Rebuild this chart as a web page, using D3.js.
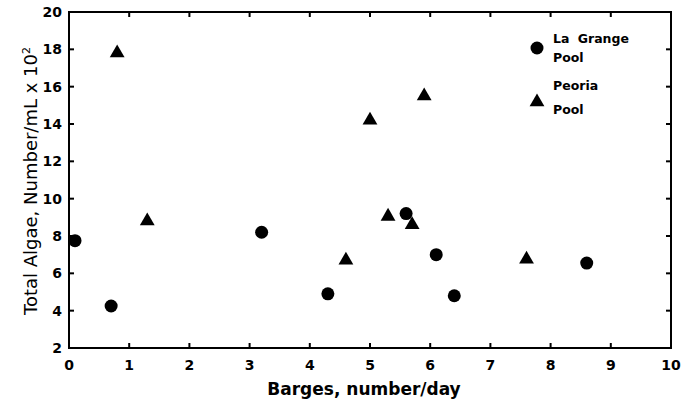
<!DOCTYPE html>
<html>
<head>
<meta charset="utf-8">
<script src="https://cdn.jsdelivr.net/npm/d3@7"></script>
<style>
  body { margin: 0; background: #fff; }
  text { font-family: "DejaVu Sans", sans-serif; fill: #000; }
</style>
</head>
<body>
<script>
// La Grange Pool (circles)
const laGrangeX = [0.1, 0.7, 3.2, 4.3, 5.6, 6.1, 6.4, 8.6];
const laGrangeY = [7.75, 4.25, 8.2, 4.9, 9.2, 7.0, 4.8, 6.55];
// Peoria Pool (triangles)
const peoriaX = [0.8, 1.3, 4.6, 5.0, 5.3, 5.7, 5.9, 7.6];
const peoriaY = [17.8, 8.8, 6.7, 14.2, 9.05, 8.6, 15.5, 6.75];

const xTicks = [0, 1, 2, 3, 4, 5, 6, 7, 8, 9, 10];
const yTicks = [2, 4, 6, 8, 10, 12, 14, 16, 18, 20];

const width = 694, height = 403;
const margin = { left: 69, right: 23, top: 12, bottom: 55 };

const svg = d3.select('body').append('svg')
    .attr('width', width)
    .attr('height', height);

const x = d3.scaleLinear().domain([0, 10]).range([margin.left, width - margin.right]);
const y = d3.scaleLinear().domain([2, 20]).range([height - margin.bottom, margin.top]);

// frame
svg.append('rect')
    .attr('x', x(0)).attr('y', y(20))
    .attr('width', x(10) - x(0)).attr('height', y(2) - y(20))
    .attr('fill', 'none').attr('stroke', '#000').attr('stroke-width', 2);

// inward ticks on all sides
const tickLen = 5;
const g = svg.append('g').attr('stroke', '#000').attr('stroke-width', 2);
g.selectAll('.tb').data(xTicks.slice(1, -1)).join('line')
    .attr('x1', d => x(d)).attr('x2', d => x(d))
    .attr('y1', y(2)).attr('y2', y(2) - tickLen);
g.selectAll('.tt').data(xTicks.slice(1, -1)).join('line')
    .attr('x1', d => x(d)).attr('x2', d => x(d))
    .attr('y1', y(20)).attr('y2', y(20) + tickLen);
g.selectAll('.tl').data(yTicks.slice(1, -1)).join('line')
    .attr('x1', x(0)).attr('x2', x(0) + tickLen)
    .attr('y1', d => y(d)).attr('y2', d => y(d));
g.selectAll('.tr').data(yTicks.slice(1, -1)).join('line')
    .attr('x1', x(10)).attr('x2', x(10) - tickLen)
    .attr('y1', d => y(d)).attr('y2', d => y(d));

// tick labels
svg.append('g').selectAll('text').data(xTicks).join('text')
    .attr('x', d => x(d)).attr('y', y(2) + 22)
    .attr('text-anchor', 'middle')
    .attr('font-size', 14).attr('font-weight', 'bold')
    .text(d => d);

svg.append('g').selectAll('text').data(yTicks).join('text')
    .attr('x', x(0) - 7).attr('y', d => y(d) + 5)
    .attr('text-anchor', 'end')
    .attr('font-size', 14).attr('font-weight', 'bold')
    .text(d => d);

// axis titles
svg.append('text')
    .attr('x', 364).attr('y', 395)
    .attr('text-anchor', 'middle')
    .attr('font-size', 17).attr('font-weight', 'bold')
    .text('Barges, number/day');

svg.append('text')
    .attr('transform', `translate(37,181) rotate(-90)`)
    .attr('text-anchor', 'middle')
    .attr('font-size', 18)
    .html('Total Algae, Number/mL x 10<tspan dy="-7" font-size="11">2</tspan>');

// points
const circles = laGrangeX.map((v, i) => ({ x: v, y: laGrangeY[i] }));
const triangles = peoriaX.map((v, i) => ({ x: v, y: peoriaY[i] }));

svg.append('g').selectAll('circle').data(circles).join('circle')
    .attr('cx', d => x(d.x)).attr('cy', d => y(d.y))
    .attr('r', 6.5).attr('fill', '#000');

const tri = d3.symbol().type(d3.symbolTriangle).size(95);
svg.append('g').selectAll('path').data(triangles).join('path')
    .attr('transform', d => `translate(${x(d.x)},${y(d.y)})`)
    .attr('d', tri).attr('fill', '#000');

// legend
const legend = svg.append('g');
legend.append('circle').attr('cx', 537).attr('cy', 48).attr('r', 6.5).attr('fill', '#000');
legend.append('text').attr('x', 553).attr('y', 43).attr('font-size', 12.5).attr('font-weight', 'bold').attr('word-spacing', 4).text('La Grange');
legend.append('text').attr('x', 553).attr('y', 62).attr('font-size', 12.5).attr('font-weight', 'bold').text('Pool');
legend.append('path').attr('transform', 'translate(537,102)').attr('d', tri).attr('fill', '#000');
legend.append('text').attr('x', 553).attr('y', 90).attr('font-size', 12.5).attr('font-weight', 'bold').text('Peoria');
legend.append('text').attr('x', 553).attr('y', 114).attr('font-size', 12.5).attr('font-weight', 'bold').text('Pool');
</script>
</body>
</html>
